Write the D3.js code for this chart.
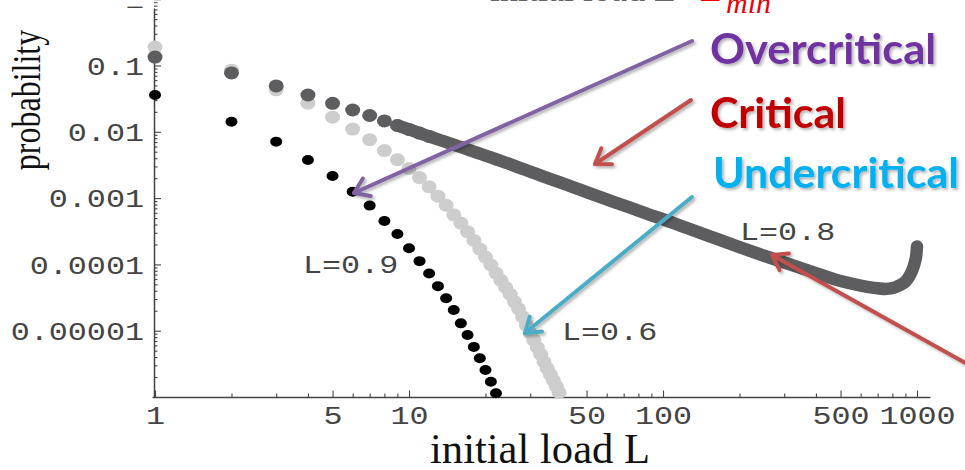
<!DOCTYPE html>
<html>
<head>
<meta charset="utf-8">
<script src="https://cdn.jsdelivr.net/npm/d3@7"></script>
<style>
  body { margin: 0; background: #fff; }
  svg { display: block; }
</style>
</head>
<body>
<div id="chart"></div>
<script>
// initial load L (x) and probability (y)
const overLoads = [1,2,3,4,5,6,7,8,9,10,11,12,13,14,15,16,17,18,19,20,21,22];
const overProb = [0.0359, 0.0142, 7.1e-3, 3.76e-3, 2.15e-3, 1.25e-3, 7.7e-4, 4.5e-4, 2.88e-4, 1.75e-4,
                  1.12e-4, 7.3e-5, 4.7e-5, 3.08e-5, 2.05e-5, 1.29e-5, 8.6e-6, 5.7e-6, 3.83e-6, 2.55e-6,
                  1.7e-6, 1.14e-6];

const underLoads = [1,2,3,4,5,6,7,8,9,10,11,12,13,14,15,16,17,18,19,20,
                    21,22,23,24,25,26,27,28,29,30,31,32,33,34,35,36,37,38,39];
const underProb = [0.19, 0.085, 0.043, 0.027, 0.0166, 0.011, 7.6e-3, 5.2e-3, 3.8e-3, 2.8e-3,
                   2.04e-3, 1.48e-3, 1.07e-3, 7.8e-4, 5.6e-4, 4.2e-4, 3.1e-4, 2.3e-4, 1.7e-4, 1.29e-4,
                   9.8e-5, 7.4e-5, 5.75e-5, 4.5e-5, 3.55e-5, 2.75e-5, 2.14e-5, 1.62e-5, 1.2e-5, 9.3e-6,
                   7.2e-6, 5.6e-6, 4.4e-6, 3.4e-6, 2.7e-6, 2.2e-6, 1.78e-6, 1.45e-6, 1.17e-6];

const critLoads = [1,2,3,4,5,6,7,8,9,10,11,12,13,14,15,16,17,18,19,20,
                   22,25,28,30,35,40,45,50,60,70,80,90,100,120,150,200,250,300,400,500,
                   600,700,750,800,850,900,930,950,970,980,990,995,1000];
const critProb = [0.134, 0.0771, 0.0491, 0.0359, 0.0269, 0.0213, 0.0176, 0.0146, 0.01245, 0.01084,
                  9.55e-3, 8.51e-3, 7.67e-3, 7.0e-3, 6.38e-3, 5.89e-3, 5.43e-3, 5.01e-3, 4.68e-3, 4.37e-3,
                  3.85e-3, 3.24e-3, 2.75e-3, 2.51e-3, 2.02e-3, 1.68e-3, 1.43e-3, 1.23e-3, 9.55e-4, 7.76e-4,
                  6.46e-4, 5.5e-4, 4.79e-4, 3.72e-4, 2.72e-4, 1.82e-4, 1.35e-4, 1.07e-4, 7.4e-5, 5.6e-5,
                  4.8e-5, 4.37e-5, 4.27e-5, 4.37e-5, 4.8e-5, 5.5e-5, 6.46e-5, 7.6e-5, 9.3e-5, 1.07e-4,
                  1.26e-4, 1.45e-4, 1.86e-4];

// tick labels
const xTickValues = [1, 5, 10, 50, 100, 500, 1000];
const yTickValues = [1, 0.1, 0.01, 0.001, 0.0001, 0.00001];
const yTickText = ["1", "0.1", "0.01", "0.001", "0.0001", "0.00001"];

const curveLabels = ["L=0.9", "L=0.6", "L=0.8"];
const regimeLabels = ["Overcritical", "Critical", "Undercritical"];

const W = 965, H = 470;
const mono = "'Liberation Mono', 'Courier New', monospace";
const serif = "'Liberation Serif', 'Times New Roman', serif";
const stretch = 1.27; // the picture is widened horizontally

const svg = d3.select("#chart").append("svg")
    .attr("width", W)
    .attr("height", H);

const defs = svg.append("defs");
defs.append("filter").attr("id", "shadow")
    .attr("x", "-10%").attr("y", "-20%").attr("width", "130%").attr("height", "160%")
    .append("feDropShadow")
    .attr("dx", 2).attr("dy", 2).attr("stdDeviation", 1.5)
    .attr("flood-color", "#000").attr("flood-opacity", 0.3);

// scales (log-log)
const x = d3.scaleLog().domain([0.973, 1125]).range([152, 930]);
const y = d3.scaleLog().domain([1e-6, 0.736]).range([397, 8]);

// minor ticks
const xMinor = [], yMinor = [];
for (let p = 0; p < 4; p++)
    for (let k = 2; k < 10; k++)
        if (k !== 5 && k * 10 ** p < 1125) xMinor.push(k * 10 ** p);
for (let p = -6; p < 0; p++)
    for (let k = 2; k < 10; k++) yMinor.push(k * 10 ** p);

const axisColor = "#444";

// x axis
const gx = svg.append("g").attr("transform", `translate(0, ${y.range()[0]})`);
gx.call(d3.axisBottom(x).tickValues(xMinor).tickSizeInner(-3.5).tickSizeOuter(0).tickFormat(""));
gx.append("g").call(d3.axisBottom(x).tickValues(xTickValues).tickSizeInner(-6.5).tickSizeOuter(0)
        .tickPadding(9).tickFormat(d3.format("d")))
    .call(g => g.select(".domain").remove());

// y axis
const gy = svg.append("g").attr("transform", `translate(${x.range()[0] + 2}, 0)`);
gy.call(d3.axisLeft(y).tickValues(yMinor).tickSizeInner(-3.5).tickSizeOuter(0).tickFormat(""));
gy.append("g").call(d3.axisLeft(y).tickValues(yTickValues).tickSizeInner(-7).tickSizeOuter(0)
        .tickPadding(10).tickFormat((d, i) => yTickText[i]))
    .call(g => g.select(".domain").remove());

svg.selectAll(".domain").attr("stroke", axisColor).attr("stroke-width", 1.5);
svg.selectAll(".tick line").attr("stroke", axisColor).attr("stroke-width", 1.1);

gx.selectAll(".tick text")
    .attr("font-family", mono).attr("font-size", 25).attr("fill", "#444")
    .attr("transform", `scale(${stretch},1)`);
gy.selectAll(".tick text")
    .attr("font-family", mono).attr("font-size", 25).attr("fill", "#444")
    .attr("x", -10 / stretch).attr("dy", "0.35em")
    .attr("transform", `scale(${stretch},1)`);

// the picture is cropped just above the plot: only the foot of the top label shows
svg.append("rect").attr("x", 0).attr("y", 0).attr("width", 150).attr("height", 6.5).attr("fill", "#fff");

// axis titles
svg.append("text")
    .attr("x", 540).attr("y", 463)
    .attr("text-anchor", "middle")
    .attr("font-family", serif).attr("font-size", 43).attr("fill", "#111")
    .attr("textLength", 220).attr("lengthAdjust", "spacingAndGlyphs")
    .text("initial load L");

svg.append("text")
    .attr("transform", "translate(40, 100) rotate(-90) scale(1,1.24)")
    .attr("text-anchor", "middle")
    .attr("font-family", serif).attr("font-size", 32).attr("fill", "#111")
    .text("probability");

// title (cut off at the top of the picture)
const title = svg.append("text").attr("y", 1).attr("font-family", serif).attr("font-size", 36);
title.append("tspan").attr("x", 490).attr("fill", "#666").text("initial load L = ");
title.append("tspan").attr("x", 700).attr("fill", "#e00").text("L");
title.append("tspan").attr("x", 726).attr("y", 13).attr("fill", "#e00")
    .attr("font-style", "italic").attr("font-size", 30).text("min");

// series dots
function series(loads, probs, color, rx, ry) {
    const pts = loads.map((l, i) => [l, probs[i]]);
    svg.append("g").selectAll("ellipse")
        .data(pts)
        .enter()
        .append("ellipse")
        .attr("cx", d => x(d[0]))
        .attr("cy", d => y(d[1]))
        .attr("rx", rx)
        .attr("ry", ry)
        .attr("fill", color);
    return pts;
}

series(underLoads, underProb, "#cdcdcd", 7.5, 6.5);
series(overLoads, overProb, "#000", 6, 5);

const critColor = "#5d5d5f";
const critPts = critLoads.map((l, i) => [l, critProb[i]]);
// dense part of the critical curve: the dots merge into a thick band
svg.append("path")
    .datum(critPts.filter(d => d[0] >= 9))
    .attr("fill", "none")
    .attr("stroke", critColor)
    .attr("stroke-width", 12.5)
    .attr("stroke-linecap", "round")
    .attr("stroke-linejoin", "round")
    .attr("d", d3.line().x(d => x(d[0])).y(d => y(d[1])).curve(d3.curveMonotoneX));
series(critLoads.filter(l => l <= 12), critProb, critColor, 7.5, 6.5);

// curve labels
const labelPos = [[303, 273], [562, 340], [740, 240]];
curveLabels.forEach((t, i) => {
    svg.append("g").attr("transform", `translate(${labelPos[i][0]}, ${labelPos[i][1]})`)
        .append("text")
        .attr("transform", `scale(${stretch},1)`)
        .attr("font-family", mono).attr("font-size", 25).attr("fill", "#444")
        .text(t);
});

// arrows
function arrow(from, to, color) {
    const a = Math.atan2(from[1] - to[1], from[0] - to[0]);
    const len = 17, spread = 0.6;
    const p1 = [to[0] + len * Math.cos(a + spread), to[1] + len * Math.sin(a + spread)];
    const p2 = [to[0] + len * Math.cos(a - spread), to[1] + len * Math.sin(a - spread)];
    const g = svg.append("g").attr("filter", "url(#shadow)")
        .attr("fill", "none").attr("stroke", color).attr("stroke-width", 4)
        .attr("stroke-linecap", "round").attr("stroke-linejoin", "round");
    g.append("path").attr("d", `M${from[0]},${from[1]}L${to[0]},${to[1]}`);
    g.append("path").attr("d", `M${p1[0]},${p1[1]}L${to[0]},${to[1]}L${p2[0]},${p2[1]}`);
}

arrow([692, 41], [354, 193], "#8064a2");
arrow([691, 100], [595, 164], "#c0504d");
arrow([692, 197], [525, 333], "#4bacc6");
arrow([985, 374], [772, 255], "#c0504d");

// regime labels
const regimeColors = ["#7030a0", "#c00000", "#00b0f0"];
const regimePos = [[710, 64, 226], [710, 128, 136], [713, 188, 246]];
regimeLabels.forEach((t, i) => {
    svg.append("text")
        .attr("x", regimePos[i][0]).attr("y", regimePos[i][1])
        .attr("font-family", "Lato, 'Open Sans', sans-serif")
        .attr("font-weight", "bold").attr("font-size", 42)
        .attr("fill", regimeColors[i])
        .attr("textLength", regimePos[i][2]).attr("lengthAdjust", "spacingAndGlyphs")
        .attr("filter", "url(#shadow)")
        .text(t);
});
</script>
</body>
</html>
